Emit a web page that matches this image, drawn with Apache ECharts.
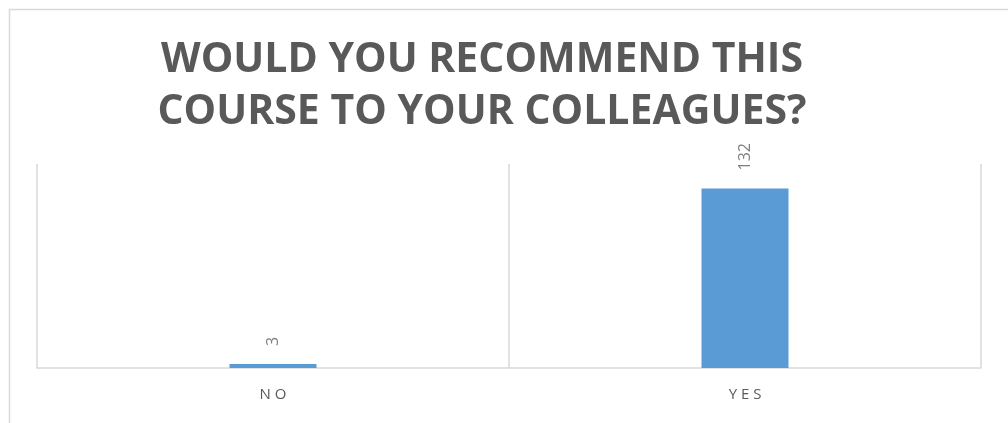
<!DOCTYPE html>
<html>
<head>
<meta charset="utf-8">
<script src="https://cdn.jsdelivr.net/npm/echarts@6/dist/echarts.min.js"></script>
<style>
	html, body {margin: 0; padding: 0; background: #fff;}
	#chart {width: 1008px; height: 423px;}
</style>
</head>
<body>
<div id="chart"></div>
<script>
const categories = ['N O', 'Y E S'];
const answers = [3, 132];
const titleLines = ['WOULD YOU RECOMMEND THIS', 'COURSE TO YOUR COLLEAGUES?'];

const node = document.getElementById('chart');
const myChart = echarts.init(node);

myChart.setOption({
	animation: false,
	textStyle: {fontFamily: 'Open Sans'},
	title: {
		text: titleLines.join('\n'),
		left: 477,
		top: 29,
		textAlign: 'center',
		textStyle: {
			fontFamily: 'Open Sans',
			fontWeight: 'bold',
			fontSize: 41,
			lineHeight: 52,
			color: '#595959',
		},
	},
	graphic: [
		{
			type: 'rect',
			left: 7,
			top: 7,
			shape: {width: 1020, height: 440},
			style: {fill: 'none', stroke: '#d9d9d9', lineWidth: 1.5},
			silent: true,
		},
	],
	grid: {
		left: 37,
		right: 27,
		top: 164,
		bottom: 55,
	},
	xAxis: {
		type: 'category',
		data: categories,
		boundaryGap: true,
		axisLine: {lineStyle: {color: '#d9d9d9', width: 1.5}},
		axisTick: {show: false},
		axisLabel: {
			margin: 19,
			fontSize: 15,
			color: '#595959',
		},
		splitLine: {show: true, lineStyle: {color: '#d9d9d9', width: 1.5}},
	},
	yAxis: {
		type: 'value',
		min: 0,
		max: 150,
		show: false,
		splitLine: {show: false},
	},
	series: [
		{
			type: 'bar',
			data: answers,
			barWidth: 87,
			itemStyle: {color: '#5b9bd5'},
			label: {
				show: true,
				position: 'top',
				distance: 18,
				rotate: 90,
				align: 'left',
				verticalAlign: 'middle',
				fontSize: 16,
				color: '#7f7f7f',
			},
		},
	],
});
</script>
</body>
</html>
